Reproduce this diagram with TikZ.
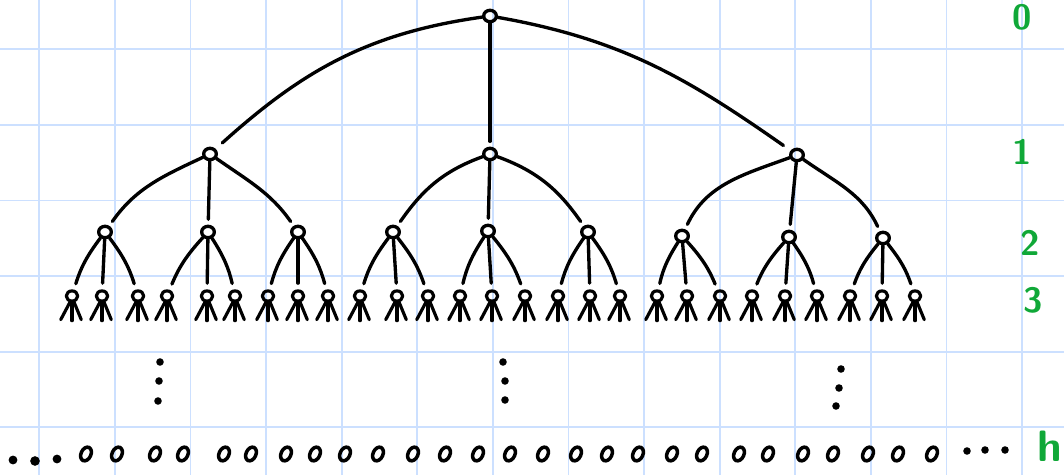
\documentclass[tikz,border=0pt]{standalone}
\usepackage{tikz}
\usetikzlibrary{shapes.geometric}

\definecolor{gridblue}{RGB}{204,224,255}
\definecolor{levelgreen}{RGB}{16,168,56}

\begin{document}
\begin{tikzpicture}[
    x=0.02cm, y=0.02cm,
    line cap=round, line join=round,
    knot/.style={ellipse, draw, line width=1.9pt, inner sep=0pt, minimum width=7.2pt, minimum height=6.5pt},
    head/.style={ellipse, draw, line width=1.8pt, inner sep=0pt, minimum width=6.5pt, minimum height=5.8pt},
    leaf/.style={ellipse, draw, line width=2pt, inner sep=0pt, minimum width=5.6pt, minimum height=8.2pt, rotate=-25},
    branch/.style={line width=1.9pt},
    leg/.style={line width=1.8pt},
    dot/.style={circle, fill, inner sep=0pt, minimum size=4.3pt},
    level/.style={text=levelgreen, font=\sffamily\bfseries\fontsize{20}{20}\selectfont},
]

\useasboundingbox (0,0) rectangle (1064,-475);

% --- squared paper ---
\foreach \gx in {0,...,13}
    \draw[gridblue, line width=1.1pt] ({39.3+75.6*\gx},0) -- ++(0,-475);
\foreach \gy in {0,...,5}
    \draw[gridblue, line width=1.1pt] (0,{-49.3-75.6*\gy}) -- ++(1064,0);

% --- root and first level ---
\node[knot] (top) at (490,-16) {};
\node[knot] (a) at (210,-154) {};
\node[knot] (b) at (490,-154) {};
\node[knot] (c) at (797,-155) {};

\draw[branch, shorten >=5pt] (top) to[out=188, in=42] (a);
\draw[branch, shorten >=3pt] (top) -- (b);
\draw[branch, shorten >=5pt] (top) to[out=-10, in=145] (c);

% --- second level ---
\node[knot] (a1) at (105,-232) {};
\node[knot] (a2) at (208,-232) {};
\node[knot] (a3) at (298,-232) {};
\node[knot] (b1) at (393,-232) {};
\node[knot] (b2) at (488,-231) {};
\node[knot] (b3) at (588,-232) {};
\node[knot] (c1) at (682,-236) {};
\node[knot] (c2) at (789,-237) {};
\node[knot] (c3) at (883,-238) {};

\draw[branch, shorten >=3pt] (a) to[out=205, in=55] (a1);
\draw[branch, shorten >=3pt] (a) -- (a2);
\draw[branch, shorten >=3pt] (a) to[out=-35, in=125] (a3);
\draw[branch, shorten >=3pt] (b) to[out=200, in=55] (b1);
\draw[branch, shorten >=3pt] (b) -- (b2);
\draw[branch, shorten >=3pt] (b) to[out=-20, in=125] (b3);
\draw[branch, shorten >=3pt] (c) to[out=200, in=65] (c1);
\draw[branch, shorten >=3pt] (c) -- (c2);
\draw[branch, shorten >=3pt] (c) to[out=-35, in=115] (c3);

% --- third level: little three-legged knots ---
\foreach \p/\xa/\xb/\xc in {a1/72/102/138, a2/167/207/235, a3/268/298/328,
                            b1/360/397/428, b2/460/492/525, b3/558/590/620,
                            c1/657/687/720, c2/752/785/817, c3/850/882/915}{
    \foreach \k/\x/\bd in {1/\xa/-10, 2/\xb/0, 3/\xc/10}{
        \node[head] (\p\k) at (\x,-296) {};
        \draw[branch, shorten >=3.5pt] (\p) to[bend left=\bd] (\p\k);
        \draw[leg] ([xshift=-1.3pt]\p\k.south) -- ++(-9,-17);
        \draw[leg] (\p\k.south) -- ++(0,-18);
        \draw[leg] ([xshift=1.3pt]\p\k.south) -- ++(7,-17);
    }
}

% --- vertical ellipses ---
\node[dot] (v1) at (160,-362) {};
\node[dot] (v2) at (159,-381) {};
\node[dot] (v3) at (158,-401) {};
\node[dot] (w1) at (503,-362) {};
\node[dot] (w2) at (505,-381) {};
\node[dot] (w3) at (505,-400) {};
\node[dot] (u1) at (841,-369) {};
\node[dot] (u2) at (839,-388) {};
\node[dot] (u3) at (836,-406) {};

% --- bottom row of leaves ---
\foreach \x [count=\n] in {86,117,155,183,224,251,286,315,345,378,413,445,478,510,
                           543,576,607,638,672,702,739,768,803,833,868,898,932}
    \node[leaf] (h\n) at (\x,-454) {};

\node[dot, minimum size=5pt] (ll1) at (13,-460) {};
\node[dot, minimum size=5.5pt] (ll2) at (35,-461) {};
\node[dot, minimum size=5pt] (ll3) at (57,-459) {};
\node[dot] (rr1) at (967,-451) {};
\node[dot] (rr2) at (985,-450) {};
\node[dot] (rr3) at (1005,-450) {};

% --- depth labels ---
\node[level] (d0) at (1022,-17) {0};
\node[level] (d1) at (1022,-152) {1};
\node[level] (d2) at (1030,-243) {2};
\node[level] (d3) at (1033,-300) {3};
\node[level, font=\sffamily\bfseries\fontsize{25}{25}\selectfont] (dh) at (1050,-446) {h};

\end{tikzpicture}
\end{document}
